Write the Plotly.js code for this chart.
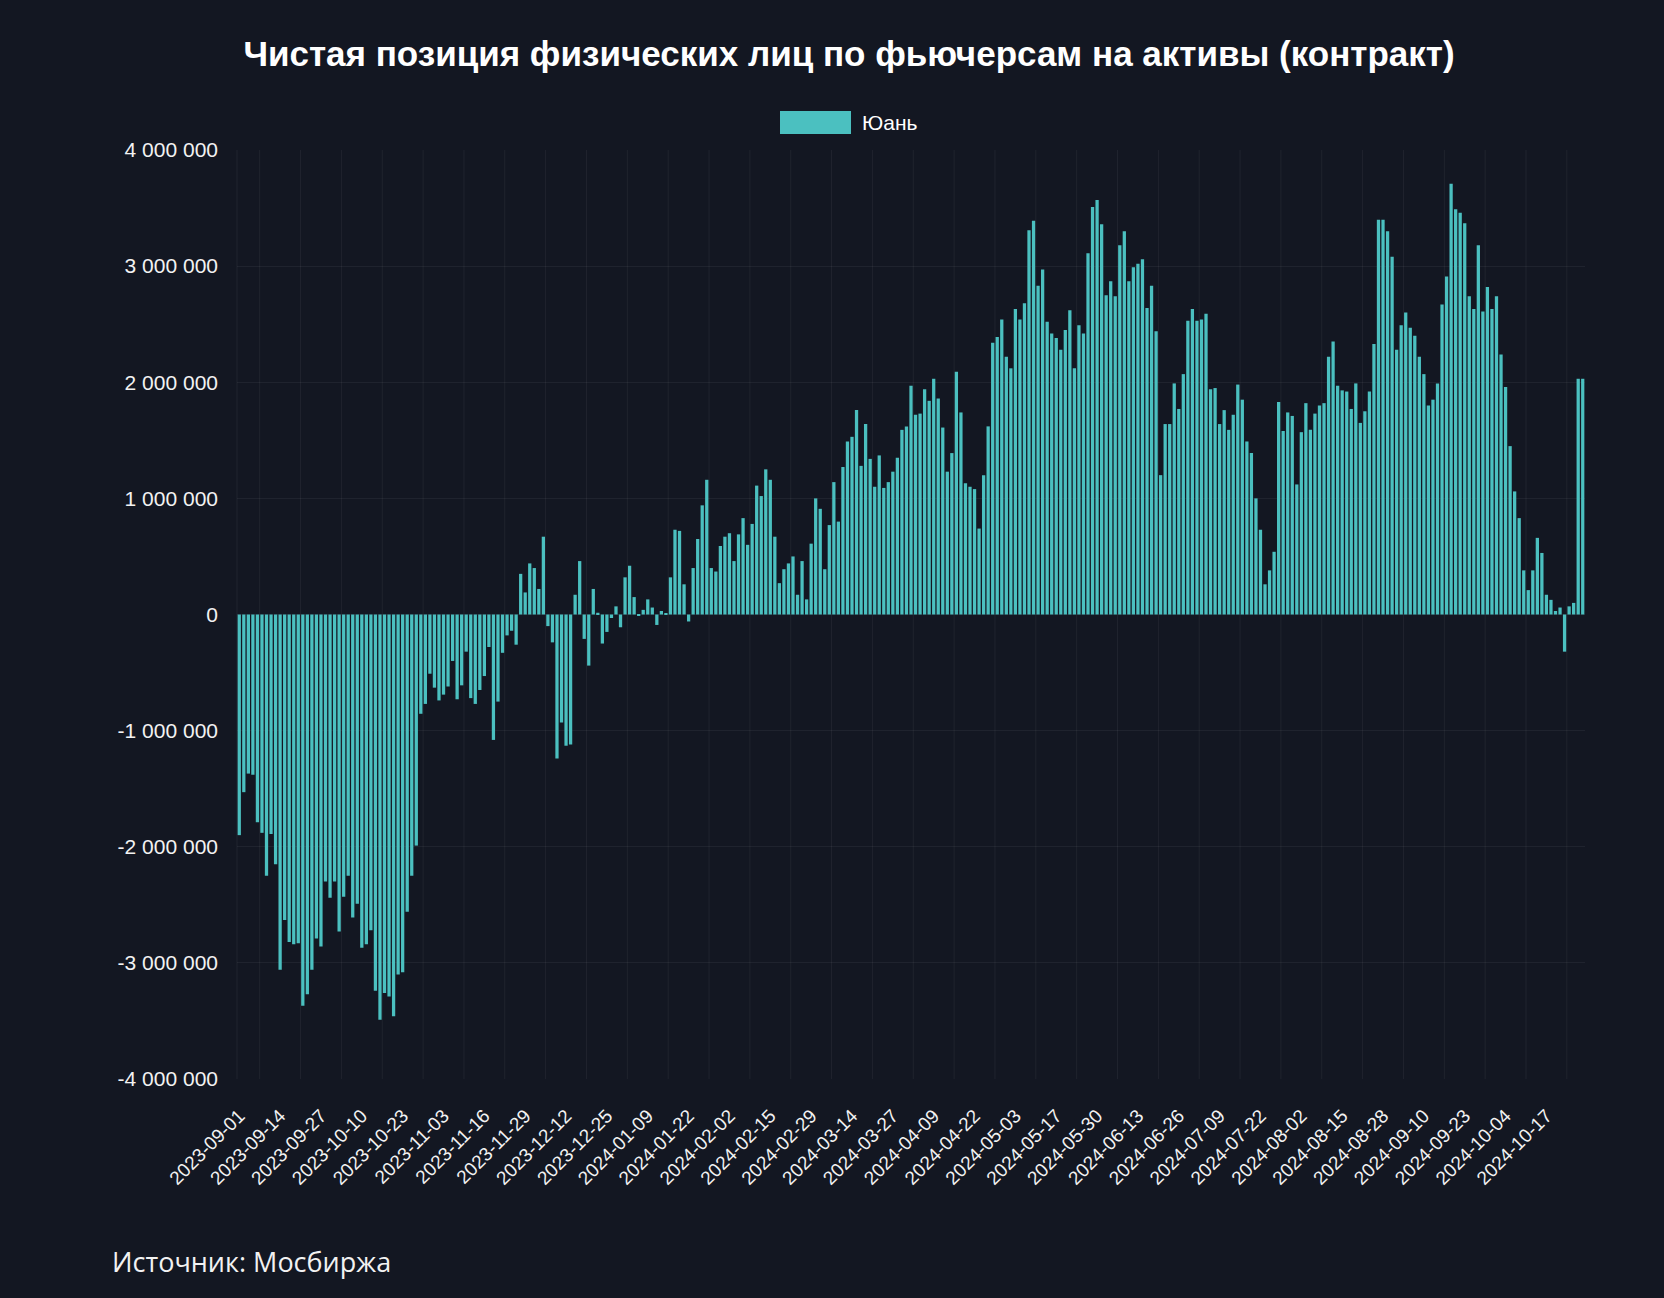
<!DOCTYPE html>
<html>
<head>
<meta charset="utf-8">
<script src="https://cdn.plot.ly/plotly-3.0.1.min.js"></script>
<style>
  html, body { margin: 0; padding: 0; background: #131722; }
  #chart { width: 1664px; height: 1298px; }
</style>
</head>
<body>
<div id="chart"></div>
<script>
// ---- Data ----
const titleText = 'Чистая позиция физических лиц по фьючерсам на активы (контракт)';
const seriesName = 'Юань';
const sourceText = 'Источник: Мосбиржа';

// Trading calendar (categories): weekdays from start to end, minus exchange holidays
const startDate = '2023-09-01';
const endDate = '2024-10-29';
const holidays = ['2024-01-01', '2024-01-02', '2024-02-23', '2024-03-08', '2024-05-09', '2024-06-12'];

// Tick labels shown on the x axis
const tickLabels = ['2023-09-01','2023-09-14','2023-09-27','2023-10-10','2023-10-23','2023-11-03','2023-11-16',
  '2023-11-29','2023-12-12','2023-12-25','2024-01-09','2024-01-22','2024-02-02','2024-02-15','2024-02-29',
  '2024-03-14','2024-03-27','2024-04-09','2024-04-22','2024-05-03','2024-05-17','2024-05-30','2024-06-13',
  '2024-06-26','2024-07-09','2024-07-22','2024-08-02','2024-08-15','2024-08-28','2024-09-10','2024-09-23',
  '2024-10-04','2024-10-17'];

// Y axis ticks and their labels
const yTickValues = [-4000000, -3000000, -2000000, -1000000, 0, 1000000, 2000000, 3000000, 4000000];
const yTickLabels = ['-4 000 000', '-3 000 000', '-2 000 000', '-1 000 000', '0',
  '1 000 000', '2 000 000', '3 000 000', '4 000 000'];

// Net position, contracts (2023-09-01 .. 2023-12-29)
const values2023 = [
  -1900000,-1530000,-1370000,-1380000,-1790000,-1880000,-2250000,-1890000,-2150000,-3060000,
  -2630000,-2820000,-2840000,-2830000,-3370000,-3270000,-3060000,-2790000,-2860000,-2300000,
  -2440000,-2300000,-2730000,-2430000,-2250000,-2610000,-2490000,-2870000,-2840000,-2720000,
  -3240000,-3490000,-3260000,-3290000,-3460000,-3100000,-3080000,-2560000,-2250000,-1990000,
  -855000,-770000,-510000,-630000,-740000,-690000,-620000,-400000,-730000,-610000,
  -320000,-720000,-770000,-650000,-530000,-280000,-1080000,-750000,-330000,-180000,
  -140000,-260000,350000,190000,440000,400000,220000,670000,-100000,-240000,
  -1240000,-930000,-1130000,-1120000,170000,460000,-210000,-440000,220000,15000,
  -250000,-150000,-30000,70000,-110000,320000
];
// Net position, contracts (2024-01-03 .. 2024-10-29)
const values2024 = [
  420000,150000,-10000,40000,130000,60000,-90000,30000,10000,320000,
  730000,720000,260000,-60000,400000,650000,940000,1160000,400000,370000,
  590000,670000,700000,460000,690000,830000,600000,780000,1110000,1020000,
  1250000,1160000,670000,270000,390000,440000,500000,170000,460000,130000,
  610000,1000000,910000,390000,770000,1140000,800000,1270000,1490000,1530000,
  1760000,1280000,1640000,1340000,1100000,1370000,1090000,1140000,1230000,1350000,
  1590000,1620000,1970000,1720000,1730000,1940000,1840000,2030000,1860000,1610000,
  1230000,1390000,2090000,1740000,1130000,1100000,1080000,740000,1200000,1620000,
  2340000,2390000,2540000,2220000,2120000,2630000,2540000,2680000,3310000,3390000,
  2830000,2970000,2520000,2420000,2380000,2280000,2450000,2620000,2120000,2490000,
  2420000,3110000,3510000,3570000,3360000,2750000,2870000,2740000,3180000,3300000,
  2870000,2990000,3020000,3060000,2640000,2830000,2440000,1200000,1640000,1640000,
  1990000,1770000,2070000,2530000,2630000,2530000,2540000,2590000,1940000,1950000,
  1640000,1760000,1590000,1720000,1980000,1850000,1490000,1390000,1000000,730000,
  260000,380000,540000,1830000,1580000,1740000,1710000,1120000,1570000,1820000,
  1590000,1730000,1800000,1820000,2220000,2350000,1970000,1930000,1920000,1770000,
  1990000,1650000,1750000,1920000,2330000,3400000,3400000,3300000,3080000,2280000,
  2490000,2600000,2470000,2400000,2220000,2070000,1800000,1850000,1990000,2670000,
  2910000,3710000,3490000,3460000,3370000,2740000,2630000,3180000,2610000,2820000,
  2630000,2740000,2240000,1960000,1450000,1060000,830000,380000,210000,380000,
  660000,530000,170000,126000,30000,60000,-320000,70000,100000,2030000,
  2030000
];

// ---- Build categories ----
function tradingDays(start, end, skip) {
  const out = [];
  const d = new Date(start + 'T00:00:00Z');
  const e = new Date(end + 'T00:00:00Z');
  while (d <= e) {
    const iso = d.toISOString().slice(0, 10);
    const wd = d.getUTCDay();
    if (wd !== 0 && wd !== 6 && skip.indexOf(iso) === -1) out.push(iso);
    d.setUTCDate(d.getUTCDate() + 1);
  }
  return out;
}
const dates = tradingDays(startDate, endDate, holidays);
const values = values2023.concat(values2024);

// ---- Layout helpers ----
const W = 1664, H = 1298;
const M = { l: 237, r: 79, t: 150, b: 219 };
const PW = W - M.l - M.r, PH = H - M.t - M.b;
const px2x = p => (p - M.l) / PW;
const px2y = p => (H - M.b - p) / PH;

const bg = '#131722';
const teal = '#4bc0c0';
const gridCol = 'rgba(255,255,255,0.055)';
const font = 'Arial, Liberation Sans, sans-serif';

// vertical grid lines halfway between labelled categories
const shapes = [];
const tickIdx = tickLabels.map(t => dates.indexOf(t));
tickIdx.forEach(i => {
  const gx = i + 4.5;
  if (gx < dates.length - 0.5) {
    shapes.push({ type: 'line', xref: 'x', yref: 'paper', x0: gx, x1: gx, y0: 0, y1: 1,
      line: { color: gridCol, width: 1 }, layer: 'below' });
  }
});
// left edge line
shapes.push({ type: 'line', xref: 'paper', yref: 'paper', x0: 0, x1: 0, y0: 0, y1: 1,
  line: { color: gridCol, width: 1 }, layer: 'below' });
// legend swatch
shapes.push({ type: 'rect', xref: 'paper', yref: 'paper',
  x0: px2x(780), x1: px2x(851), y0: px2y(134), y1: px2y(111),
  fillcolor: teal, line: { width: 0 } });

const trace = {
  type: 'bar',
  x: dates,
  y: values,
  name: seriesName,
  marker: { color: teal, line: { width: 0 } },
  hoverinfo: 'x+y'
};

const layout = {
  width: W, height: H,
  margin: M,
  paper_bgcolor: bg,
  plot_bgcolor: bg,
  showlegend: false,
  bargap: 0.28,
  title: {
    text: titleText,
    font: { family: font, size: 35, color: '#ffffff', weight: 700 },
    xref: 'container', yref: 'container',
    x: 849 / W, xanchor: 'center',
    y: 1 - 54 / H, yanchor: 'middle'
  },
  xaxis: {
    type: 'category',
    tickmode: 'array',
    tickvals: tickLabels,
    ticktext: tickLabels,
    tickangle: -45,
    tickfont: { family: font, size: 19, color: '#f2f2f2' },
    showgrid: false,
    zeroline: false,
    showline: false,
    ticks: '',
    ticklabelstandoff: 21,
    range: [-0.5, dates.length - 0.5]
  },
  yaxis: {
    range: [-4000000, 4000000],
    tickmode: 'array',
    tickvals: yTickValues,
    ticktext: yTickLabels,
    tickfont: { family: font, size: 21, color: '#f2f2f2' },
    gridcolor: gridCol,
    gridwidth: 1,
    zeroline: false,
    showline: false,
    ticks: '',
    ticklabelstandoff: 18
  },
  shapes: shapes,
  annotations: [
    { text: seriesName, xref: 'paper', yref: 'paper', x: px2x(860), y: px2y(122.5),
      xanchor: 'left', yanchor: 'middle', showarrow: false,
      font: { family: font, size: 21, color: '#ffffff' } },
    { text: sourceText, xref: 'paper', yref: 'paper', x: px2x(110), y: px2y(1261),
      xanchor: 'left', yanchor: 'middle', showarrow: false,
      font: { family: 'Open Sans, Noto Sans, sans-serif', size: 27, color: '#f2f2f2' } }
  ]
};

Plotly.newPlot('chart', [trace], layout, { displayModeBar: false, responsive: false });
</script>
</body>
</html>
